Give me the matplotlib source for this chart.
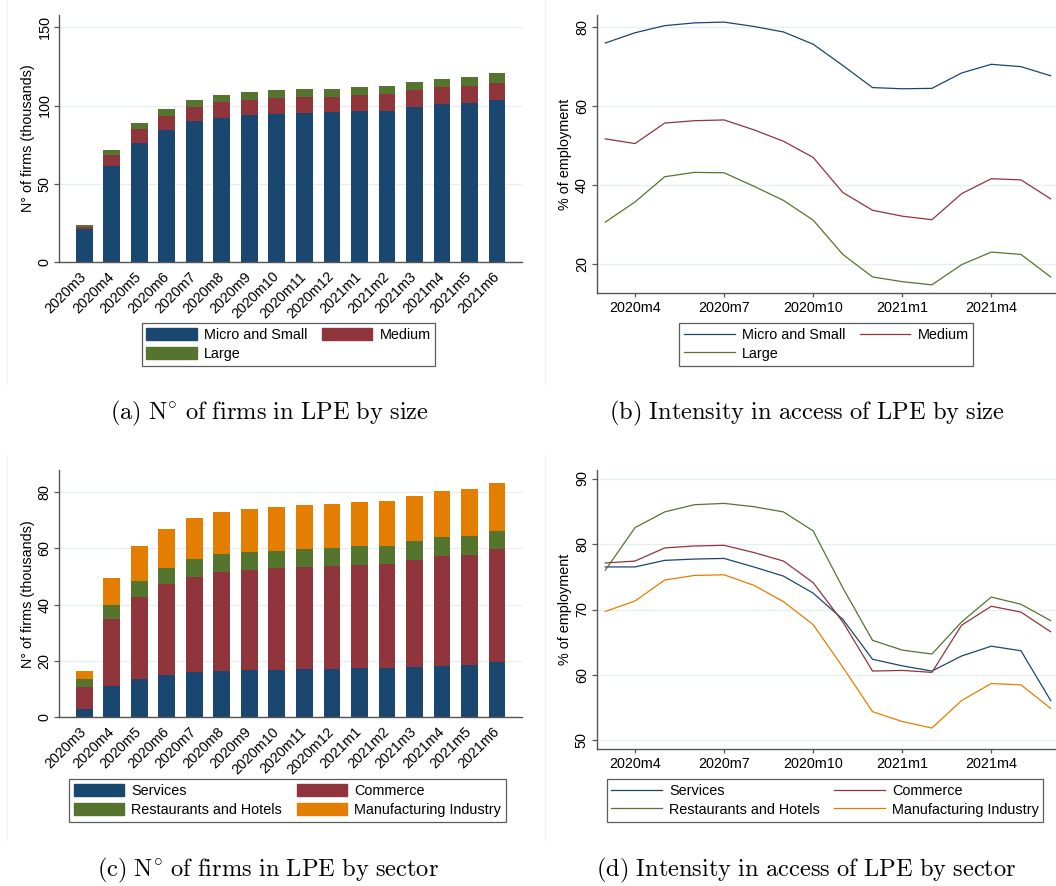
"""Firms in LPE and intensity of access, by size and by sector."""

import matplotlib
matplotlib.use("Agg")
import matplotlib.pyplot as plt
import numpy as np
from matplotlib.lines import Line2D
from matplotlib.patches import Patch

plt.rcParams["font.family"] = ["Liberation Sans", "DejaVu Sans"]
plt.rcParams["mathtext.fontset"] = "cm"

MONTHS = ["2020m3", "2020m4", "2020m5", "2020m6", "2020m7", "2020m8",
          "2020m9", "2020m10", "2020m11", "2020m12", "2021m1", "2021m2",
          "2021m3", "2021m4", "2021m5", "2021m6"]

# N° of firms (thousands) by size
FIRMS_MICRO_SMALL = [20.7, 61.5, 76.0, 84.5, 89.8, 92.2, 93.9, 94.7,
                     95.2, 95.8, 96.4, 96.4, 99.0, 100.9, 101.6, 103.5]
FIRMS_MEDIUM = [1.5, 6.8, 8.9, 9.0, 9.2, 10.0, 9.8, 10.3,
                10.2, 9.6, 10.3, 10.9, 10.9, 10.9, 10.9, 10.9]
FIRMS_LARGE = [1.1, 3.0, 3.9, 4.2, 4.7, 4.5, 4.9, 4.9,
               5.1, 5.4, 5.1, 5.2, 5.1, 5.3, 5.7, 6.2]

# Intensity of access (% of employment) by size
INT_MICRO_SMALL = [76.0, 78.6, 80.4, 81.1, 81.3, 80.2, 78.8, 75.7,
                   70.3, 64.7, 64.4, 64.5, 68.4, 70.6, 70.0, 67.7]
INT_MEDIUM = [51.7, 50.5, 55.7, 56.3, 56.5, 54.0, 51.1, 47.0,
              38.1, 33.6, 32.1, 31.2, 37.8, 41.6, 41.3, 36.5]
INT_LARGE = [30.6, 35.7, 42.1, 43.2, 43.1, 39.7, 36.1, 31.1,
             22.4, 16.7, 15.5, 14.7, 19.8, 23.0, 22.4, 16.7]

# N° of firms (thousands) by sector
FIRMS_SERVICES = [3.0, 11.1, 13.6, 15.0, 16.1, 16.4, 16.9, 16.9,
                  17.2, 17.2, 17.5, 17.5, 17.9, 18.2, 18.6, 19.8]
FIRMS_COMMERCE = [7.8, 23.8, 29.1, 32.2, 33.7, 35.2, 35.4, 36.1,
                  36.2, 36.5, 36.7, 36.9, 38.0, 39.1, 38.9, 39.8]
FIRMS_RESTAURANTS = [2.7, 5.0, 5.7, 5.8, 6.4, 6.3, 6.4, 6.1,
                     6.4, 6.3, 6.5, 6.4, 6.7, 6.7, 6.9, 6.6]
FIRMS_MANUFACTURING = [2.9, 9.7, 12.4, 13.9, 14.6, 15.0, 15.3, 15.6,
                       15.6, 15.7, 15.7, 16.0, 16.0, 16.4, 16.7, 17.0]

# Intensity of access (% of employment) by sector
INT_SERVICES = [76.5, 76.5, 77.5, 77.7, 77.8, 76.5, 75.1, 72.5,
                68.5, 62.4, 61.4, 60.6, 62.9, 64.4, 63.7, 56.1]
INT_COMMERCE = [77.1, 77.4, 79.4, 79.7, 79.8, 78.7, 77.4, 74.1,
                68.1, 60.6, 60.7, 60.4, 67.6, 70.5, 69.6, 66.6]
INT_RESTAURANTS = [76.0, 82.5, 84.9, 86.0, 86.2, 85.7, 84.9, 82.0,
                   73.3, 65.3, 63.8, 63.2, 68.1, 71.9, 70.8, 68.3]
INT_MANUFACTURING = [69.7, 71.3, 74.5, 75.2, 75.3, 73.7, 71.2, 67.7,
                     61.2, 54.4, 52.9, 51.9, 56.1, 58.7, 58.5, 54.9]

SIZE_LABELS = ["Micro and Small", "Medium", "Large"]
SECTOR_LABELS = ["Services", "Commerce", "Restaurants and Hotels",
                 "Manufacturing Industry"]

NAVY = "#1a476f"
MAROON = "#90353b"
GREEN = "#55752f"
ORANGE = "#e37e00"
GRID = "#e6eef0"
AXIS = "#555555"

W, H = 1056, 886
FS = 10.4


def px_box(left, top, right, bottom):
    return [left / W, 1 - bottom / H, (right - left) / W, (bottom - top) / H]


def style_axes(ax, yticks, ylim):
    for side in ("top", "right"):
        ax.spines[side].set_visible(False)
    for side in ("left", "bottom"):
        ax.spines[side].set_color(AXIS)
        ax.spines[side].set_linewidth(1.0)
    ax.set_ylim(*ylim)
    ax.set_yticks(yticks)
    ax.yaxis.grid(True, color=GRID, linewidth=0.9)
    ax.set_axisbelow(True)
    ax.tick_params(axis="y", labelrotation=90, length=3.6, width=0.9,
                   color=AXIS, pad=2.0, labelsize=FS)
    for lab in ax.get_yticklabels():
        lab.set_va("center")


def add_legend(fig, handles, labels, center_x, top_y):
    leg = fig.legend(handles, labels, ncol=2, loc="upper center",
                     bbox_to_anchor=(center_x / W, 1 - top_y / H),
                     bbox_transform=fig.transFigure, fontsize=FS,
                     frameon=True, fancybox=False, edgecolor="#333333",
                     handlelength=3.5, handleheight=0.95, handletextpad=0.5,
                     columnspacing=1.0, labelspacing=0.32, borderpad=0.32,
                     borderaxespad=0)
    leg.get_frame().set_linewidth(0.9)
    return leg


def stacked_bars(ax, series, colors):
    x = np.arange(len(MONTHS))
    bottom = np.zeros(len(MONTHS))
    for vals, color in zip(series, colors):
        ax.bar(x, vals, bottom=bottom, width=0.61, color=color, linewidth=0)
        bottom += np.asarray(vals)
    ax.set_xlim(-0.91, 15.9)
    ax.set_xticks(x)
    ax.set_xticklabels(MONTHS, rotation=45, ha="right", va="center",
                       rotation_mode="anchor", fontsize=FS)
    ax.tick_params(axis="x", length=0, pad=9)


def line_panel(ax, series, colors):
    x = np.arange(len(MONTHS))
    for vals, color in zip(series, colors):
        ax.plot(x, vals, color=color, linewidth=0.9)
    ax.set_xlim(-0.29, 15.18)
    ticks = list(range(1, len(MONTHS), 3))
    ax.set_xticks(ticks)
    ax.set_xticklabels([MONTHS[i] for i in ticks], fontsize=FS)
    ax.tick_params(axis="x", length=3.2, width=0.9, color=AXIS, pad=2.5)


def caption(fig, text, center_x, center_y):
    fig.text(center_x / W, 1 - center_y / H, text, ha="center", va="center",
             fontsize=17.6)


fig = plt.figure(figsize=(W / 100, H / 100), dpi=100)

# faint graph-region borders
for x0 in (6.7, 545):
    for y0, y1 in ((0, 385), (455, 840)):
        fig.add_artist(Line2D([x0 / W, x0 / W], [1 - y0 / H, 1 - y1 / H],
                              transform=fig.transFigure, color="#eef2f3",
                              linewidth=0.8))

# (a) firms by size
ax_a = fig.add_axes(px_box(59.3, 15, 521.7, 261.7))
stacked_bars(ax_a, [FIRMS_MICRO_SMALL, FIRMS_MEDIUM, FIRMS_LARGE],
             [NAVY, MAROON, GREEN])
style_axes(ax_a, [0, 50, 100, 150], (0, 158))
ax_a.set_ylabel("N° of firms (thousands)", fontsize=FS, labelpad=2)
patches = [Patch(color=c) for c in (NAVY, MAROON, GREEN)]
add_legend(fig, [patches[0], patches[2], patches[1]],
           [SIZE_LABELS[0], SIZE_LABELS[2], SIZE_LABELS[1]], 288.5, 323.3)

# (b) intensity by size
ax_b = fig.add_axes(px_box(596.7, 15, 1056, 292.7))
line_panel(ax_b, [INT_MICRO_SMALL, INT_MEDIUM, INT_LARGE],
           [NAVY, MAROON, GREEN])
style_axes(ax_b, [20, 40, 60, 80], (12.7, 83.1))
ax_b.set_ylabel("% of employment", fontsize=FS, labelpad=2)
lines = [Line2D([], [], color=c, linewidth=0.9) for c in (NAVY, MAROON, GREEN)]
add_legend(fig, [lines[0], lines[2], lines[1]],
           [SIZE_LABELS[0], SIZE_LABELS[2], SIZE_LABELS[1]], 826.3, 323.3)

# (c) firms by sector
ax_c = fig.add_axes(px_box(59.3, 470, 521.7, 717.3))
stacked_bars(ax_c, [FIRMS_SERVICES, FIRMS_COMMERCE, FIRMS_RESTAURANTS,
                    FIRMS_MANUFACTURING], [NAVY, MAROON, GREEN, ORANGE])
style_axes(ax_c, [0, 20, 40, 60, 80], (0, 87.8))
ax_c.set_ylabel("N° of firms (thousands)", fontsize=FS, labelpad=2)
patches = [Patch(color=c) for c in (NAVY, MAROON, GREEN, ORANGE)]
add_legend(fig, [patches[0], patches[2], patches[1], patches[3]],
           [SECTOR_LABELS[0], SECTOR_LABELS[2], SECTOR_LABELS[1],
            SECTOR_LABELS[3]], 287.5, 779.3)

# (d) intensity by sector
ax_d = fig.add_axes(px_box(596.7, 470, 1056, 749))
line_panel(ax_d, [INT_SERVICES, INT_COMMERCE, INT_RESTAURANTS,
                  INT_MANUFACTURING], [NAVY, MAROON, GREEN, ORANGE])
style_axes(ax_d, [50, 60, 70, 80, 90], (48.7, 91.3))
ax_d.set_ylabel("% of employment", fontsize=FS, labelpad=2)
lines = [Line2D([], [], color=c, linewidth=0.9)
         for c in (NAVY, MAROON, GREEN, ORANGE)]
add_legend(fig, [lines[0], lines[2], lines[1], lines[3]],
           [SECTOR_LABELS[0], SECTOR_LABELS[2], SECTOR_LABELS[1],
            SECTOR_LABELS[3]], 825.0, 779.3)

caption(fig, r"$\mathrm{(a)\ N^{\circ}\ of\ firms\ in\ LPE\ by\ size}$", 269, 413)
caption(fig, r"$\mathrm{(b)\ Intensity\ in\ access\ of\ LPE\ by\ size}$", 807, 413)
caption(fig, r"$\mathrm{(c)\ N^{\circ}\ of\ firms\ in\ LPE\ by\ sector}$", 268, 870)
caption(fig, r"$\mathrm{(d)\ Intensity\ in\ access\ of\ LPE\ by\ sector}$", 806, 870)

fig.savefig("out.png", dpi=100)
plt.close(fig)
